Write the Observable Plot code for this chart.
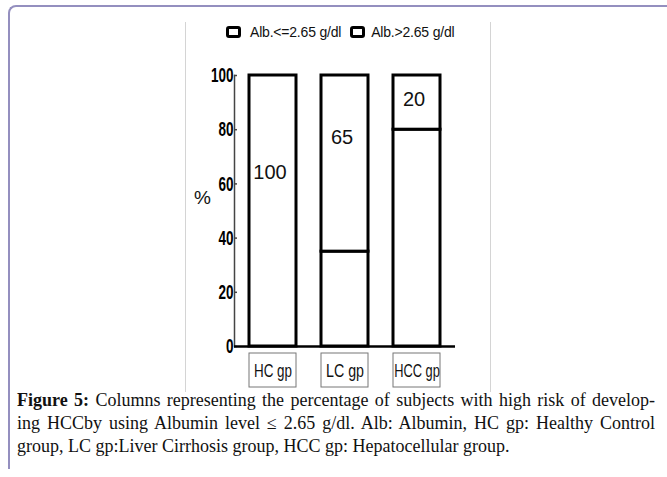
<!DOCTYPE html>
<html>
<head>
<meta charset="utf-8">
<script src="https://cdn.jsdelivr.net/npm/d3@7"></script>
<script src="https://cdn.jsdelivr.net/npm/@observablehq/plot@0.6"></script>
<style>
  html, body { margin: 0; padding: 0; background: #fff; }
  body { width: 667px; height: 477px; position: relative; overflow: hidden; font-family: "Liberation Sans", Arial, sans-serif; }
  #frame { position: absolute; left: 8px; top: 5px; width: 720px; height: 462px;
           border-top: 2px solid #948fbf; border-left: 2px solid #948fbf; border-top-left-radius: 8px; }
  .vline { position: absolute; top: 22px; width: 1px; height: 370px; background: #d4d4d4; }
  #legend { position: absolute; left: 226px; top: 22px; height: 20px; display: flex; align-items: center;
            font-size: 14px; color: #111; white-space: nowrap; letter-spacing: -0.2px; }
  .swatch { display: inline-block; width: 9px; height: 6px; border: 3px solid #000; border-radius: 3px; background: #fff; margin-right: 9px; }
  .item { display: flex; align-items: center; margin-right: 8px; }
  #chart { position: absolute; left: 185px; top: 22px; }
  #pct { position: absolute; left: 194px; top: 187px; font-size: 19px; color: #111; }
  #caption { position: absolute; left: 17px; top: 389px; width: 638px; font-family: "Liberation Serif", "Times New Roman", serif;
             font-size: 18px; line-height: 23px; color: #111; }
  #caption div { text-align: justify; text-align-last: justify; white-space: nowrap; }
  #caption div.last { text-align-last: left; }
</style>
</head>
<body>
<div id="frame"></div>
<div class="vline" style="left:185px"></div>
<div class="vline" style="left:490px"></div>
<div id="legend"></div>
<div id="chart"></div>
<div id="pct">%</div>
<div id="caption">
  <div><b>Figure 5:</b> Columns representing the percentage of subjects with high risk of develop-</div>
  <div>ing HCCby using Albumin level ≤ 2.65 g/dl. Alb: Albumin, HC gp: Healthy Control</div>
  <div class="last">group, LC gp:Liver Cirrhosis group, HCC gp: Hepatocellular group.</div>
</div>
<script>
// ---- data ----
const groups = ["HC gp", "LC gp", "HCC gp"];
const seriesNames = ["Alb.<=2.65 g/dl", "Alb.>2.65 g/dl"];
const lowAlb = [0, 35, 80];      // Alb.<=2.65 g/dl (bottom segment)
const highAlb = [100, 65, 20];   // Alb.>2.65 g/dl (top segment, labelled)
const labelY = [64, 77, 91];     // where the value labels sit
const yTicks = [0, 20, 40, 60, 80, 100];

// ---- legend ----
const legend = document.getElementById("legend");
seriesNames.forEach((name, i) => {
  const it = document.createElement("span");
  it.className = "item";
  it.style.marginRight = i === 0 ? "9px" : "0";
  const sw = document.createElement("span");
  sw.className = "swatch";
  sw.style.marginRight = i === 0 ? "9px" : "6px";
  it.appendChild(sw);
  it.appendChild(document.createTextNode(name));
  legend.appendChild(it);
});

// ---- rows ----
const rows = [];
groups.forEach((g, i) => {
  rows.push({group: g, series: seriesNames[0], value: lowAlb[i]});
  rows.push({group: g, series: seriesNames[1], value: highAlb[i]});
});

const tickFont = '"Liberation Sans Narrow", "Arial Narrow", "Liberation Sans", Arial, sans-serif';

const chart = Plot.plot({
  width: 305,
  height: 370,
  marginTop: 53,
  marginBottom: 46,
  marginLeft: 49,
  marginRight: 35,
  style: {background: "transparent", color: "#000", fontSize: "15px", fontFamily: '"Liberation Sans", Arial, sans-serif', overflow: "visible"},
  x: {domain: groups, paddingInner: 0.35, paddingOuter: 0.19, axis: null},
  y: {domain: [0, 100], label: null},
  marks: [
    Plot.frame({anchor: "left", stroke: "#444", strokeWidth: 1.5}),
    Plot.tickY(yTicks, {y: d => d, stroke: "#444", strokeWidth: 1.5, insetRight: 218}),
    Plot.axisY(yTicks, {tickSize: 0, tickPadding: 1, fontSize: 21, fontWeight: "bold", fontFamily: tickFont, label: null}),
    Plot.barY(rows, {x: "group", y: "value", z: "series", fill: "white", stroke: "black", strokeWidth: 3}),
    Plot.ruleY([0], {stroke: "black", strokeWidth: 2.5}),
    Plot.text(groups, {x: d => d, y: (d, i) => labelY[i], text: (d, i) => String(highAlb[i]), dx: -3, fontSize: 20, fill: "#111"}),
    Plot.barY(groups, {x: d => d, y1: 0, y2: 0, insetTop: 7, insetBottom: -41, fill: "none", stroke: "#777", strokeWidth: 1}),
    Plot.text(groups, {x: d => d, y: 0, dy: 25, text: d => d, fontSize: 18, fill: "#111", fontFamily: tickFont})
  ]
});
// condense the y tick labels like the original's narrow bold digits
chart.querySelectorAll('g[aria-label="y-axis tick label"] text').forEach(t => {
  const n = t.textContent.length;
  t.setAttribute("textLength", String(n * 7.5));
  t.setAttribute("lengthAdjust", "spacingAndGlyphs");
});
// narrow category labels
chart.querySelectorAll('text').forEach(t => {
  if (groups.includes(t.textContent)) {
    t.setAttribute("textLength", String(t.textContent.length * 7.6));
    t.setAttribute("lengthAdjust", "spacingAndGlyphs");
  }
});
document.getElementById("chart").appendChild(chart);
</script>
</body>
</html>
